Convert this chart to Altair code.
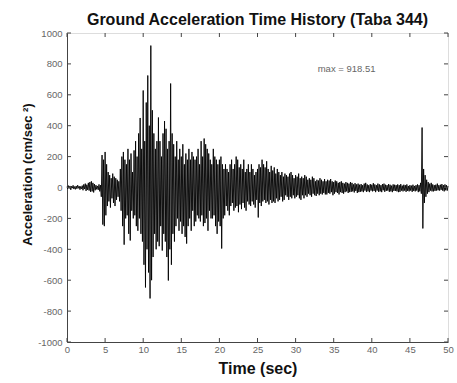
import altair as alt
import pandas as pd

dt = 0.1
accel = [
    5,-8,12,-6,10,-15,8,-4,14,-10,
    6,-12,10,-8,15,-5,9,-14,7,-9,
    12,-18,20,-10,25,-22,18,-15,30,-20,
    35,-28,40,-25,30,-32,22,-18,15,-12,
    10,-15,20,-25,15,-60,210,-240,180,-250,
    230,-180,150,-120,100,-90,80,-130,60,-70,
    90,-100,70,-120,60,-80,50,-60,40,-90,
    120,-150,200,-250,230,-370,180,-200,150,-180,
    250,-300,180,-343,220,-150,100,-200,240,-180,
    300,-250,200,-280,350,-200,450,-300,250,-350,
    628,-500,300,-647,550,-400,725,-550,400,-718,
    918.51,-600,500,-450,350,-300,250,-400,300,-350,
    453,-380,300,-250,200,-408,350,-300,430,-350,
    380,-450,250,-602,300,-400,673,-500,350,-300,
    280,-350,200,-250,300,-200,180,-280,250,-220,
    200,-300,280,-250,150,-320,220,-363,180,-250,
    250,-200,180,-280,230,-150,200,-250,180,-220,
    200,-180,250,-200,150,-220,300,-180,200,-250,
    317,-230,280,-200,250,-280,220,-150,180,-200,
    150,-200,250,-180,200,-250,180,-300,150,-220,
    180,-250,200,-395,150,-200,120,-180,150,-120,
    120,-150,100,-180,150,-120,180,-100,120,-150,
    150,-130,200,-120,180,-160,130,-110,150,-140,
    120,-100,180,-130,100,-150,120,-90,150,-110,
    100,-120,150,-90,120,-110,80,-130,100,-80,
    120,-194,150,-100,130,-120,180,-90,150,-80,
    130,-100,170,-90,120,-110,100,-80,140,-100,
    110,-90,130,-100,90,-70,120,-90,100,-80,
    80,-60,100,-90,70,-80,90,-50,80,-60,
    70,-80,90,-60,100,-70,80,-50,60,-70,
    80,-60,70,-50,90,-70,60,-80,70,-50,
    60,-70,80,-50,70,-60,50,-40,60,-50,
    50,-60,70,-40,60,-50,40,-55,50,-40,
    45,-50,60,-40,50,-45,40,-35,55,-45,
    40,-45,50,-35,45,-40,55,-30,40,-50,
    35,-40,45,-30,40,-35,30,-45,35,-30,
    40,-35,30,-40,25,-30,35,-25,30,-35,
    25,-30,35,-28,30,-25,20,-32,28,-22,
    20,-35,25,-30,18,-28,22,-25,15,-30,
    25,-20,30,-28,20,-25,15,-30,22,-20,
    18,-25,28,-22,20,-30,15,-20,25,-28,
    20,-25,15,-30,22,-18,25,-28,18,-22,
    15,-20,22,-28,18,-25,12,-30,20,-22,
    18,-22,15,-25,20,-30,15,-28,22,-20,
    12,-25,18,-20,15,-28,20,-22,10,-25,
    15,-20,12,-28,18,-22,10,-25,15,-20,
    20,-30,15,-25,30,-40,388,-265,120,-100,
    80,-60,50,-40,35,-30,25,-20,30,-25,
    20,-25,15,-22,18,-20,25,-18,15,-20,
    18,-15,22,-20,15,-25,20,-18,15,-20,10,
]
x_ticks = [0, 5, 10, 15, 20, 25, 30, 35, 40, 45, 50]
y_ticks = [-1000, -800, -600, -400, -200, 0, 200, 400, 600, 800, 1000]
note_text = ["max = 918.51"]
note_t = [32.9]
note_a = [764]

W, H = 381, 309
df = pd.DataFrame({"t": [i * dt for i in range(len(accel))], "a": accel})
xt = pd.DataFrame({"t": x_ticks})
yt = pd.DataFrame({"a": y_ticks})
note = pd.DataFrame({"t": note_t, "a": note_a, "txt": note_text})

xscale = alt.Scale(domain=[0, 50], nice=False, zero=False)
yscale = alt.Scale(domain=[-1000, 1000], nice=False)
lab = dict(labelFont="Liberation Sans", labelFontSize=9.5, labelColor="#666",
           labelOverlap=False, labelFlush=False, labelExpr="'' + datum.value",
           titleFont="Liberation Sans", titleFontWeight="bold",
           titleColor="#111", ticks=False, domainColor="#444", grid=False)
xaxis = alt.Axis(values=x_ticks, title="Time (sec)", labelPadding=2,
                 titlePadding=7, titleFontSize=16, **lab)
yaxis = alt.Axis(values=y_ticks, title="Acceleration (cm/sec ²)",
                 labelPadding=5, titlePadding=3, titleFontSize=13,
                 titleY=141, **lab)

X = lambda: alt.X("t:Q", scale=xscale, axis=xaxis, title="Time (sec)")
Y = lambda: alt.Y("a:Q", scale=yscale, axis=yaxis, title="Acceleration (cm/sec ²)")

line = alt.Chart(df).mark_line(color="black", strokeWidth=0.9).encode(x=X(), y=Y())

txt = alt.Chart(note).mark_text(align="left", baseline="middle", font="Liberation Sans",
                                fontSize=9.5, color="#666").encode(
    x=X(), y=Y(), text="txt:N")

tick_style = dict(color="#444", strokeWidth=1)
bt = alt.Chart(xt).mark_rule(**tick_style).encode(
    x=X(), y=alt.value(H), y2=alt.value(H - 4))
tt = alt.Chart(xt).mark_rule(**tick_style).encode(
    x=X(), y=alt.value(0), y2=alt.value(4))
lt = alt.Chart(yt).mark_rule(**tick_style).encode(
    y=Y(), x=alt.value(0), x2=alt.value(4))
rt = alt.Chart(yt).mark_rule(**tick_style).encode(
    y=Y(), x=alt.value(W), x2=alt.value(W - 4))

chart = alt.layer(line, txt, bt, tt, lt, rt).properties(
    width=W, height=H,
    title=alt.TitleParams("Ground Acceleration Time History (Taba 344)",
                          font="Liberation Sans", fontSize=16, fontWeight="bold",
                          color="#111", offset=0, anchor="middle"),
    autosize=alt.AutoSizeParams(type="none"),
    padding={"left": 67, "top": 33, "right": 9, "bottom": 41},
).configure_view(stroke="#444", strokeWidth=1).configure(background="white")

chart.save("out.html", embed_options={"renderer": "svg", "actions": False})
